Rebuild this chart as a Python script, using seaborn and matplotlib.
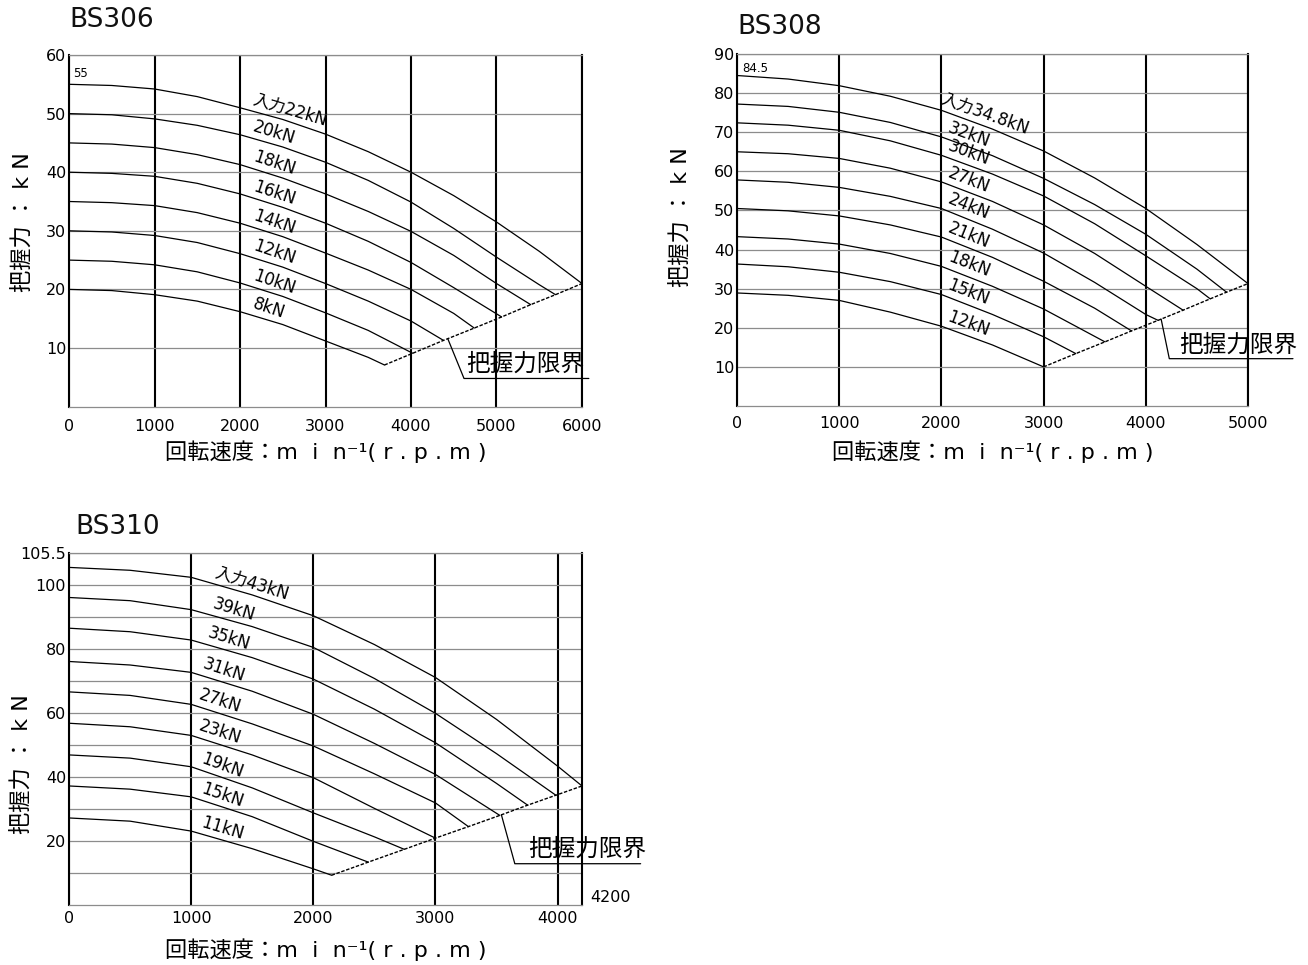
import numpy as np
import pandas as pd
import matplotlib
matplotlib.use("Agg")
import matplotlib.pyplot as plt
import seaborn as sns

sns.set_theme(style="white")
plt.rcParams["font.family"] = ["DejaVu Sans", "Noto Sans CJK JP"]
plt.rcParams["text.color"] = "black"
plt.rcParams["axes.labelcolor"] = "black"
plt.rcParams["xtick.color"] = "black"
plt.rcParams["ytick.color"] = "black"

# ---------------- data: BS306 ----------------
bs306_rpm = [0, 500, 1000, 1500, 2000, 2500, 3000, 3500, 4000, 4500, 5000, 5500]
bs306_labels = ["入力22kN", "20kN", "18kN", "16kN", "14kN", "12kN", "10kN", "8kN"]
bs306_f22 = [55, 54.8, 54.2, 52.9, 51.0, 49.0, 46.5, 43.5, 40.0, 36.0, 31.5, 26.5]
bs306_f20 = [50, 49.8, 49.1, 48.0, 46.4, 44.3, 41.7, 38.6, 34.9, 30.4, 25.5, 20.8]
bs306_f18 = [45, 44.8, 44.2, 43.0, 41.3, 39.0, 36.3, 33.3, 29.9, 25.8, 21.0]
bs306_f16 = [40, 39.8, 39.3, 38.1, 36.3, 34.0, 31.3, 28.2, 24.6, 20.3]
bs306_f14 = [35, 34.8, 34.3, 33.1, 31.3, 29.0, 26.2, 23.3, 20.0, 15.9]
bs306_f12 = [30, 29.8, 29.2, 28.0, 26.1, 23.8, 21.0, 18.0, 14.6]
bs306_f10 = [25, 24.8, 24.2, 23.0, 21.1, 18.8, 16.0, 13.0]
bs306_f8 = [20, 19.8, 19.1, 18.0, 16.2, 14.0, 11.2, 8.4]
bs306_end_rpm = [6000, 5690, 5400, 5060, 4740, 4380, 4020, 3690]
bs306_end_force = [21.0, 19.1, 17.4, 15.3, 13.4, 11.3, 9.1, 7.1]
bs306_xticks = [0, 1000, 2000, 3000, 4000, 5000, 6000]
bs306_ygrid = [10, 20, 30, 40, 50, 60]
bs306_ylabels = ["10", "20", "30", "40", "50", "60"]
bs306_start_note = "55"

# ---------------- data: BS308 ----------------
bs308_rpm = [0, 500, 1000, 1500, 2000, 2500, 3000, 3500, 4000, 4500]
bs308_labels = ["入力34.8kN", "32kN", "30kN", "27kN", "24kN", "21kN", "18kN", "15kN", "12kN"]
bs308_f348 = [84.5, 83.6, 81.9, 79.2, 75.6, 70.8, 65.2, 58.3, 50.5, 41.3]
bs308_f32 = [77.2, 76.6, 75.1, 72.5, 68.8, 64.0, 58.2, 51.5, 43.9, 35.0]
bs308_f30 = [72.4, 71.8, 70.5, 67.8, 64.1, 59.3, 53.7, 46.6, 38.4, 30.0]
bs308_f27 = [65.0, 64.5, 63.3, 60.8, 57.3, 52.3, 46.3, 39.0, 30.6]
bs308_f24 = [57.8, 57.2, 55.9, 53.6, 50.5, 45.2, 39.1, 31.6, 23.4]
bs308_f21 = [50.5, 49.9, 48.6, 46.3, 43.2, 38.0, 31.9, 25.0]
bs308_f18 = [43.3, 42.7, 41.4, 39.0, 35.7, 30.6, 24.8]
bs308_f15 = [36.3, 35.6, 34.2, 31.8, 28.5, 23.4, 17.7]
bs308_f12 = [28.9, 28.3, 27.0, 24.0, 20.4, 15.6]
bs308_end_rpm = [5000, 4790, 4630, 4365, 4120, 3860, 3600, 3315, 3000]
bs308_end_force = [31.3, 29.1, 27.4, 24.5, 21.9, 19.2, 16.4, 13.4, 10.0]
bs308_xticks = [0, 1000, 2000, 3000, 4000, 5000]
bs308_ygrid = [10, 20, 30, 40, 50, 60, 70, 80, 90]
bs308_ylabels = ["10", "20", "30", "40", "50", "60", "70", "80", "90"]
bs308_start_note = "84.5"

# ---------------- data: BS310 ----------------
bs310_rpm = [0, 500, 1000, 1500, 2000, 2500, 3000, 3500, 4000]
bs310_labels = ["入力43kN", "39kN", "35kN", "31kN", "27kN", "23kN", "19kN", "15kN", "11kN"]
bs310_f43 = [105.5, 104.6, 102.4, 96.9, 90.4, 81.4, 71.1, 58.0, 43.4]
bs310_f39 = [96.1, 95.1, 92.3, 87.0, 80.5, 70.8, 59.9, 47.3]
bs310_f35 = [86.5, 85.4, 82.8, 77.3, 70.6, 61.2, 50.7, 38.0]
bs310_f31 = [76.1, 75.0, 72.7, 66.8, 59.6, 50.5, 40.8]
bs310_f27 = [66.6, 65.5, 62.7, 56.6, 49.7, 41.0, 31.9]
bs310_f23 = [56.8, 55.7, 53.0, 46.9, 39.8, 30.2]
bs310_f19 = [46.9, 45.9, 43.2, 36.6, 28.8, 21.3]
bs310_f15 = [37.2, 36.2, 33.8, 27.6, 19.9]
bs310_f11 = [27.2, 26.2, 23.1, 17.6, 11.3]
bs310_end_rpm = [4200, 3986, 3755, 3527, 3270, 3000, 2745, 2450, 2150]
bs310_end_force = [37.2, 34.3, 31.2, 28.0, 24.5, 20.9, 17.4, 13.4, 9.3]
bs310_xticks = [0, 1000, 2000, 3000, 4000]
bs310_ygrid = [10, 20, 30, 40, 50, 60, 70, 80, 90, 100, 110]
bs310_ylabels = ["", "20", "", "40", "", "60", "", "80", "", "100", "105.5"]
bs310_max_note = "4200"

limit_text = "把握力限界"
xlabel_text = "回転速度：m  i  n⁻¹( r . p . m )"
ylabel_text = "把握力 ： k N"

# ---------------- helpers ----------------
def build_frame(rpm, series, labels, end_rpm, end_force):
    rows = []
    for lab, vals, er, ef in zip(labels, series, end_rpm, end_force):
        xs = list(rpm[:len(vals)]) + [er]
        ys = list(vals) + [ef]
        for x, y in zip(xs, ys):
            rows.append({"rpm": x, "force": y, "curve": lab})
    return pd.DataFrame(rows)


def draw_panel(ax, title, title_xy, rpm, series, labels, end_rpm, end_force,
               xlim, ylim, xticks, ygrid, ylabels, label_x, label_span,
               limit_cfg, xpad, ylab_xy, xlab_y):
    ax.set_xlim(*xlim)
    ax.set_ylim(*ylim)
    df = build_frame(rpm, series, labels, end_rpm, end_force)
    sns.lineplot(data=df, x="rpm", y="force", units="curve", estimator=None,
                 color="black", linewidth=0.9, sort=False, legend=False, ax=ax)
    lim = pd.DataFrame({"rpm": end_rpm, "force": end_force})
    sns.lineplot(data=lim, x="rpm", y="force", color="black", linewidth=1.0,
                 linestyle=(0, (2.5, 1.2)), estimator=None, legend=False, ax=ax)

    ax.set_xticks(xticks)
    ax.set_xticklabels([str(t) for t in xticks], fontsize=11.5, color="black")
    ax.set_yticks(ygrid)
    ax.set_yticklabels(ylabels, fontsize=11.5, color="black")
    ax.xaxis.grid(True, color="black", linewidth=1.5)
    ax.yaxis.grid(True, color="#8c8c8c", linewidth=0.9)
    ax.tick_params(axis="both", length=0)
    ax.tick_params(axis="x", pad=xpad)
    ax.tick_params(axis="y", pad=2)
    for side in ("left", "right"):
        ax.spines[side].set_color("black")
        ax.spines[side].set_linewidth(1.5)
    for side in ("top", "bottom"):
        ax.spines[side].set_color("#8c8c8c")
        ax.spines[side].set_linewidth(0.9)

    ax.set_xlabel(xlabel_text, fontsize=16, va="center", color="black")
    ax.xaxis.set_label_coords(0.5, xlab_y)
    ax.set_ylabel(ylabel_text, fontsize=16, va="center", color="black")
    ax.yaxis.set_label_coords(*ylab_xy)

    ax.text(title_xy[0], title_xy[1], title, transform=ax.transAxes,
            fontsize=19, ha="left", va="center", color="#111111")

    # curve labels
    for i, (lab, vals, er, ef) in enumerate(zip(labels, series, end_rpm, end_force)):
        xs = np.array(list(rpm[:len(vals)]) + [er], dtype=float)
        ys = np.array(list(vals) + [ef], dtype=float)
        x0 = label_x[i]
        y0 = np.interp(x0, xs, ys)
        y1 = np.interp(x0 + label_span, xs, ys)
        p0 = ax.transData.transform((x0, y0))
        p1 = ax.transData.transform((x0 + label_span, y1))
        ang = np.degrees(np.arctan2(p1[1] - p0[1], p1[0] - p0[0]))
        ax.annotate(lab, xy=(x0, y0), xytext=(0.5, 2.0), textcoords="offset points",
                    rotation=ang, rotation_mode="anchor", ha="left", va="bottom",
                    fontsize=12, color="black")

    # limit annotation
    lx = np.interp(limit_cfg["x"], end_rpm[::-1], end_force[::-1])
    ex, ey = limit_cfg["elbow"]
    ax.plot([limit_cfg["x"], ex, limit_cfg["end"]], [lx, ey, ey], color="black",
            linewidth=0.9, clip_on=False)
    ax.text(limit_cfg["text_x"], ey + limit_cfg["gap"], limit_text, ha="left",
            va="bottom", fontsize=17, color="black", clip_on=False)


fig = plt.figure(figsize=(13.08, 9.65), dpi=100)
W, H = 1308.0, 965.0
ax1 = fig.add_axes([69 / W, 1 - 406.6 / H, 513 / W, 351.6 / H])
ax2 = fig.add_axes([737 / W, 1 - 406 / H, 511 / W, 352 / H])
ax3 = fig.add_axes([69 / W, 1 - 905 / H, 513 / W, 352 / H])

draw_panel(ax1, "BS306", (0.0, 1.10), bs306_rpm,
           [bs306_f22, bs306_f20, bs306_f18, bs306_f16, bs306_f14, bs306_f12, bs306_f10, bs306_f8],
           bs306_labels, bs306_end_rpm, bs306_end_force,
           (0, 6000), (0, 60), bs306_xticks, bs306_ygrid, bs306_ylabels,
           [2120] * 8, 600,
           {"x": 4430, "elbow": (4620, 4.8), "end": 6080, "text_x": 4640, "gap": 0.5},
           9, (-0.09, 0.525), -0.129)
ax1.text(50, 56.9, bs306_start_note, fontsize=8.5, ha="left", va="center")

draw_panel(ax2, "BS308", (0.0, 1.077), bs308_rpm,
           [bs308_f348, bs308_f32, bs308_f30, bs308_f27, bs308_f24, bs308_f21, bs308_f18, bs308_f15, bs308_f12],
           bs308_labels, bs308_end_rpm, bs308_end_force,
           (0, 5000), (0, 90), bs308_xticks, bs308_ygrid, bs308_ylabels,
           [1960] + [2030] * 8, 500,
           {"x": 4150, "elbow": (4230, 12.1), "end": 5440, "text_x": 4330, "gap": 0.6},
           7, (-0.11, 0.537), -0.131)
ax2.text(50, 86.4, bs308_start_note, fontsize=8.5, ha="left", va="center")

draw_panel(ax3, "BS310", (0.012, 1.074), bs310_rpm,
           [bs310_f43, bs310_f39, bs310_f35, bs310_f31, bs310_f27, bs310_f23, bs310_f19, bs310_f15, bs310_f11],
           bs310_labels, bs310_end_rpm, bs310_end_force,
           (0, 4200), (0, 110), bs310_xticks, bs310_ygrid, bs310_ylabels,
           [1170, 1150, 1110, 1070, 1040, 1040, 1060, 1060, 1060], 600,
           {"x": 3540, "elbow": (3650, 12.9), "end": 4680, "text_x": 3760, "gap": 0.8},
           4, (-0.092, 0.40), -0.128)
ax3.annotate(bs310_max_note, xy=(bs310_xticks[-1] + 200, 0), xytext=(6, 0),
             textcoords="offset points", fontsize=11.5, ha="left", va="bottom",
             annotation_clip=False)

fig.savefig("out.png", dpi=100, facecolor="white")
